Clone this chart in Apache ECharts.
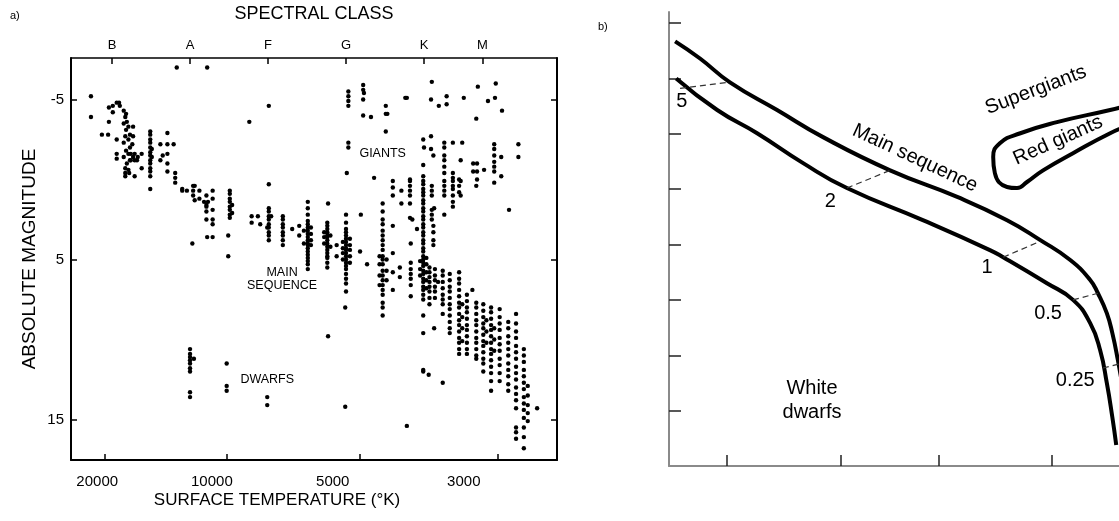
<!DOCTYPE html>
<html><head><meta charset="utf-8">
<script src="https://cdn.jsdelivr.net/npm/echarts@6/dist/echarts.min.js"></script>
<style>html,body{margin:0;padding:0;background:#fff}#c{width:1119px;height:521px}</style>
</head><body><div id="c"></div>
<script>
// ---------- Panel a: HR diagram data (x = spectral position, B0=10, A0=20 ... ; y = absolute magnitude) ----------
const spectralClasses = ['B','A','F','G','K','M'];
const spectralPos = [10, 20, 30, 40, 50, 57.5];
const temperatureLabels = ['20000','10000','5000','3000'];
const temperatureLabelPos = [8.1, 22.8, 38.3, 55.1];
const temperatureTickPos = [9.1, 24.7, 41.7, 59.5];
const magnitudeTicks = [-5, 5, 15];

// each row: spectral position, then magnitudes of stars in that column
const hotMainSeq = [
  [7.3,-5.2,-3.9],[8.7,-2.8],[9.5,-2.8],[9.6,-4.5,-3.6],[10.1,-4.6,-4.2],
  [10.6,-4.8,-2.5,-1.6,-1.3],[10.9,-4.8],[11.0,-4.6],[11.5,-4.3,-3.5,-2.3,-1.4],
  [11.7,-3.9,-2.7,-0.7,-0.2,-0.4],[11.8,-4.1,-3.1,-1.8],[11.9,-3.6,-1.0],
  [12.1,-3.3,-2.5,-1.6,-0.6],[12.2,-0.4],[12.3,-2.8,-2.0,-1.2],[12.4,-1.6,-1.2],
  [12.6,-2.2],[12.7,-3.3,-2.7,-1.4],[12.9,-1.6,-1.2,-0.2],[13.2,-1.2],[13.3,-1.4],
  [13.8,-1.6,-0.7],
  [14.9,-3.0,-2.8,-2.5,-2.3,-2.0,-1.7,-1.5,-1.2,-1.0,-0.7,-0.5,-0.2,0.6],
  [15.1,-1.9,-1.4],[16.2,-2.2,-1.2],[16.5,-1.5],[17.1,-2.9,-2.2,-1.6,-1.0,-0.5],
  [17.9,-2.2],[18.1,-0.4,-0.1,0.2]
];
const aStars = [
  [19.0,0.6,0.7],[19.6,0.7],[20.3,4.0],[20.4,0.4,0.7,1.0],[20.6,0.4,1.3],[21.2,0.7,1.2],
  [21.8,1.4],[22.1,1.0,1.6,1.7,2.0,2.5],[22.2,3.6],[22.3,1.4],[22.9,0.7,1.2,1.9,2.5,2.8,3.6],
  [24.9,3.5,4.8],[25.1,0.7,0.9,1.2,1.4,1.7,1.9,2.2,2.4],[25.4,1.6,2.1]
];
const fStars = [
  [27.9,2.3,2.7],[28.7,2.3],[29.0,2.8],[29.9,3.0],[30.1,1.8,2.0,2.3,2.5,2.8,3.0,3.3,3.5,3.8],
  [30.4,2.3],[31.9,2.3,2.5,2.8,3.0,3.3,3.5,3.8,4.1],[33.1,3.1],[34.0,2.9,3.5],[34.6,3.2,4.0],
  [35.1,1.4,1.8,2.2,2.6,2.8,3.0,3.2,3.4,3.6,3.8,4.0,4.1,4.3,4.5,4.7,4.9,5.1,5.3,5.6],
  [35.5,3.0,3.4,3.8,4.1],[37.2,3.3,3.6,4.0],
  [37.6,2.7,2.9,3.1,3.3,3.5,3.6,3.8,4.0,4.2,4.4,4.6,4.8,4.9,5.2,5.5],
  [37.7,1.5,9.8],[38.0,3.5,4.2],[38.8,4.1,4.8]
];
const gStars = [
  [39.6,3.9,4.3,4.6,5.0],[39.9,8.0,14.2],
  [40.0,2.2,2.7,3.1,3.3,3.5,3.7,3.9,4.1,4.3,4.4,4.6,4.8,5.0,5.2,5.4,5.6,5.9,6.2,6.5,7.0],
  [40.5,3.7,4.1,4.4,4.8,5.2],[41.8,4.5],[41.9,2.2],[42.7,5.3],[44.3,4.8,5.3,6.0,6.6],
  [44.7,1.5,2.0,2.5,2.8,3.2,3.5,3.8,4.1,4.4,4.8,5.0,5.3,5.7,6.0,6.3,6.6,6.9,7.2,7.7,8.0,8.5],
  [45.2,5.0,5.7,6.3],[46.0,2.9,4.6,5.8,6.9],[46.9,5.5,6.1],[47.8,15.4],[48.2,2.4],
  [48.3,4.0,5.2,5.6,5.9,6.2,6.6,7.3],[48.5,2.5],[49.1,3.1]
];
const kmStars = [
  [49.5,5.1,5.6,6.0],
  [49.9,-2.5,-0.9,-0.2,0.1,0.3,0.6,0.8,1.0,1.3,1.5,1.8,2.0,2.3,2.5,2.8,3.0,3.3,3.5,3.8,4.0,4.3,4.5,4.8,5.0,5.2,5.4,5.7,5.9,6.2,6.4,6.7,6.9,7.2,7.5,8.5,9.6,11.9,12.0],
  [50.0,-2.0],[50.3,4.9,5.3,5.8,6.3,6.8],[50.6,12.2],[50.7,5.5,5.8,6.1,6.4,6.7,7.0,7.4,7.8],
  [50.9,-2.7,-1.9],[51.0,0.4,0.7,1.0,1.9,2.2,2.5],[51.2,-1.5,2.9,3.3,3.8,4.1],[51.3,1.8,9.3],
  [51.4,5.6,6.0,6.3,6.7,7.0,7.4],[51.8,6.4],[52.4,5.7,6.0,6.4,6.8,7.2,7.5,7.8,8.4,12.7],
  [53.3,5.9,6.3,6.7,7.0,7.4,7.8,8.1,8.5,8.9,9.3,9.6],
  [54.5,5.8,6.2,6.5,6.9,7.3,7.7,8.0,8.4,8.8,9.1,9.5,9.9,10.2,10.6,10.9],
  [54.9,7.8,8.6,9.3,10.1],[55.5,7.2,7.6,8.0,8.3,8.7,9.1,9.4,9.8,10.2,10.6,10.9],[56.2,6.9],
  [56.7,7.7,8.0,8.4,8.8,9.1,9.5,9.9,10.2,10.6,11.0,11.2],
  [57.6,7.8,8.2,8.6,9.0,9.3,9.7,10.1,10.4,10.8,11.2,11.5,12.0],[58.0,8.8,9.5,10.2],
  [58.6,8.0,8.3,8.7,9.1,9.4,9.8,10.2,10.6,10.9,11.3,11.7,12.1,12.6,13.2],[59.0,9.3,10.0,10.7],
  [59.7,8.1,8.6,9.0,9.4,9.9,10.3,10.7,11.2,11.6,12.1,12.6],
  [60.8,8.9,9.3,9.8,10.2,10.6,11.0,11.5,11.9,12.3,12.8,13.2],
  [61.8,8.4,9.0,9.5,9.9,10.4,10.8,11.2,11.7,12.1,12.5,13.0,13.4,13.8,14.3,15.5,15.8,16.2],
  [62.8,10.6,11.0,11.4,11.9,12.3,12.7,13.1,13.6,14.0,14.4,14.9,15.5,16.1,16.8],
  [63.3,12.9,13.5,14.1,14.6,15.1],[64.5,14.3]
];
const giantStars = [
  [18.3,-7.0],[22.2,-7.0],[27.6,-3.6],[30.1,-4.6,0.3],[40.1,-0.4],[40.3,-5.5,-5.2,-4.9,-4.6,-2.3,-2.0],
  [42.2,-5.9,-5.6,-5.0,-4.0],[42.3,-5.4],[43.2,-3.9],[43.6,-0.1],[45.1,-4.6,-4.1,-3.0],[45.3,-4.1],
  [46.0,0.1,0.5,1.0],[47.1,0.7,1.5],[47.6,-5.1],[47.8,-5.1],[48.2,0.0,0.1,0.4,0.7,1.0,1.5],
  [50.9,-5.0],[51.0,-6.1],[51.9,-4.6],[52.6,-2.3,-2.0,-1.5,-1.2,-0.8,-0.4,0.1,0.4,0.7,1.0,2.2],
  [52.9,-5.2,-4.7],[53.7,-2.3,-0.4,-0.1,0.1,0.4,0.6,1.0,1.4,1.7],[54.5,0.0,0.4,0.8],
  [54.7,-1.2,0.1,1.0],[54.9,-2.3],[55.1,-5.1],[56.3,-1.0,-0.5],[56.7,-3.8,0.4],[56.8,-1.0,-0.5,0.0],
  [56.9,-5.8],[57.7,-0.6],[58.2,-4.9],[59.0,-2.2,-1.9,-1.5,-1.1,-0.8,-0.5,0.2],[59.1,-5.1],
  [59.2,-6.0],[59.9,-1.4,-0.2],[60.0,-4.3],[60.9,1.9],[62.1,-2.2,-1.4]
];
const dwarfStars = [
  [20.0,10.6,10.9,11.1,11.3,11.5,11.8,12.0,13.3,13.6],[20.5,11.2],[24.7,11.5,12.9,13.2],[29.9,13.6,14.1]
];
const regionLabelsA = [
  {name:'GIANTS', value:[44.7,-1.6]},
  {name:'MAIN\nSEQUENCE', value:[31.8,6.2]},
  {name:'DWARFS', value:[29.9,12.5]}
];

// ---------- Panel b: schematic (abstract units) ----------
const upperBand = [[0.11,7.67],[0.56,7.36],[1.10,6.93],[1.95,6.43],[2.78,5.94],[3.99,5.34],[5.20,4.86],[6.10,4.44],[6.70,4.08],[7.24,3.72],[7.60,3.36],[7.74,3.12],[7.90,2.76],[8.00,2.40],[8.10,1.91],[8.21,1.28]];
const lowerBand = [[0.13,7.00],[0.87,6.43],[1.59,6.01],[2.42,5.47],[3.21,5.02],[4.58,4.44],[5.79,3.90],[6.03,3.77],[6.82,3.30],[7.29,3.00],[7.60,2.58],[7.78,2.09],[7.90,1.50],[8.00,0.88],[8.07,0.38]];
const redGiantLoop = [[8.32,6.52],[7.96,6.43],[7.00,6.21],[6.34,6.01],[5.97,5.83],[5.85,5.58],[5.88,5.29],[6.10,5.04],[6.28,5.02],[6.46,5.13],[6.75,5.34],[7.29,5.65],[7.96,6.01],[8.32,6.16]];
const massLines = [
  [[0.20,6.82],[1.06,6.93]],
  [[3.21,5.02],[3.99,5.34]],
  [[6.03,3.77],[6.70,4.06]],
  [[7.29,3.00],[7.74,3.12]],
  [[7.83,1.77],[8.15,1.85]]
];
const massLabels = [
  {name:'5', value:[0.23,6.58]},
  {name:'2', value:[2.91,4.77]},
  {name:'1', value:[5.74,3.59]},
  {name:'0.5', value:[6.84,2.76]},
  {name:'0.25', value:[7.33,1.55]}
];
const regionLabelsB = [
  {name:'Main sequence', value:[4.44,5.56], rot:-25},
  {name:'Supergiants', value:[6.62,6.79], rot:21},
  {name:'Red giants', value:[7.02,5.88], rot:24},
  {name:'White\ndwarfs', value:[2.58,1.19], rot:0}
];
const bXTicks = [1.05, 3.1, 4.86, 6.9];
const bYTicks = [1,2,3,4,5,6,7,8];

function expand(rows){ const out=[]; rows.forEach(r=>{ for(let i=1;i<r.length;i++) out.push([r[0], r[i]]); }); return out; }
function nearestLabel(v, pos, labels){ let bi=0,bd=1e9; pos.forEach((p,i)=>{ const d=Math.abs(p-v); if(d<bd){bd=d;bi=i;} }); return labels[bi]; }

const FONT = 'Liberation Sans';
const INK = '#000';
const starGroups = [hotMainSeq, aStars, fStars, gStars, kmStars, giantStars, dwarfStars];

const chart = echarts.init(document.getElementById('c'), null, {renderer:'canvas'});
const series = [];
starGroups.forEach(g => series.push({
  type:'scatter', xAxisIndex:0, yAxisIndex:0, data: expand(g), symbolSize:4.4,
  itemStyle:{color:INK, opacity:1}, silent:true, animation:false
}));
const txtLabel = (size, lh) => ({show:true, position:'inside', formatter:'{b}', fontFamily:FONT, fontSize:size, color:INK, lineHeight:lh, textBorderWidth:0, opacity:1});
series.push({
  type:'scatter', xAxisIndex:0, yAxisIndex:0, data: regionLabelsA, symbolSize:1,
  itemStyle:{color:'rgba(0,0,0,0)', opacity:1}, label:txtLabel(12.5, 13)
});
series.push({type:'line', xAxisIndex:2, yAxisIndex:2, data:upperBand, smooth:true, symbol:'none', lineStyle:{color:INK, width:4}, animation:false});
series.push({type:'line', xAxisIndex:2, yAxisIndex:2, data:lowerBand, smooth:true, symbol:'none', lineStyle:{color:INK, width:4}, animation:false});
series.push({type:'line', xAxisIndex:2, yAxisIndex:2, data:redGiantLoop, smooth:true, symbol:'none', lineStyle:{color:INK, width:4}, animation:false});
massLines.forEach(seg => series.push({type:'line', xAxisIndex:2, yAxisIndex:2, data:seg, symbol:'none', lineStyle:{color:'#333', width:1.2, type:[6,4]}, animation:false}));
series.push({
  type:'scatter', xAxisIndex:2, yAxisIndex:2, data: massLabels, symbolSize:1,
  itemStyle:{color:'rgba(0,0,0,0)', opacity:1}, label:txtLabel(20, 24)
});
series.push({
  type:'scatter', xAxisIndex:2, yAxisIndex:2, symbolSize:1, itemStyle:{color:'rgba(0,0,0,0)', opacity:1},
  data: regionLabelsB.map(d => ({name:d.name, value:d.value, label:{rotate:d.rot}})),
  label:txtLabel(20, 24)
});

const option = {
  backgroundColor:'#fff',
  animation:false,
  textStyle:{fontFamily:FONT},
  grid:[
    {left:71, top:53, width:486, height:407},
    {left:669, top:12, width:450, height:454}
  ],
  xAxis:[
    {gridIndex:0, type:'value', min:4.74, max:67.05, position:'bottom',
     axisLine:{onZero:false, lineStyle:{color:INK, width:2}},
     axisTick:{inside:true, length:6, customValues:temperatureTickPos, lineStyle:{color:INK, width:1.5}},
     axisLabel:{customValues:temperatureLabelPos, formatter:v=>nearestLabel(v, temperatureLabelPos, temperatureLabels), fontSize:15, color:INK, margin:14},
     splitLine:{show:false}},
    {gridIndex:0, type:'value', min:4.74, max:67.05, position:'top',
     name:'SPECTRAL CLASS', nameLocation:'middle', nameGap:35, nameTextStyle:{fontSize:18, color:INK},
     axisLine:{onZero:false, lineStyle:{color:INK, width:1.5}},
     axisTick:{inside:true, length:6, customValues:spectralPos, lineStyle:{color:INK, width:1.5}},
     axisLabel:{customValues:spectralPos, formatter:v=>nearestLabel(v, spectralPos, spectralClasses), fontSize:13, color:INK, margin:6},
     splitLine:{show:false}},
    {gridIndex:1, type:'value', min:0, max:8.12,
     axisLine:{onZero:false, lineStyle:{color:'#8a8a8a', width:2}},
     axisTick:{inside:true, length:11, customValues:bXTicks, lineStyle:{color:'#222', width:1.5}},
     axisLabel:{show:false}, splitLine:{show:false}}
  ],
  yAxis:[
    {gridIndex:0, type:'value', inverse:true, min:-7.59, max:17.53,
     name:'ABSOLUTE MAGNITUDE', nameLocation:'middle', nameGap:32, nameRotate:90, nameTextStyle:{fontSize:19, color:INK},
     axisLine:{show:true, onZero:false, lineStyle:{color:INK, width:2}},
     axisTick:{show:true, inside:true, length:6, customValues:magnitudeTicks, lineStyle:{color:INK, width:1.5}},
     axisLabel:{customValues:magnitudeTicks, fontSize:15, color:INK, margin:7},
     splitLine:{show:false}},
    {gridIndex:0, type:'value', inverse:true, min:-7.59, max:17.53, position:'right',
     axisLine:{show:true, onZero:false, lineStyle:{color:INK, width:2}},
     axisTick:{show:true, inside:true, length:6, customValues:magnitudeTicks, lineStyle:{color:INK, width:1.5}},
     axisLabel:{show:false}, splitLine:{show:false}},
    {gridIndex:1, type:'value', min:0, max:8.2,
     axisLine:{show:true, onZero:false, lineStyle:{color:'#8a8a8a', width:2}},
     axisTick:{show:true, inside:true, length:12, customValues:bYTicks, lineStyle:{color:'#222', width:1.5}},
     axisLabel:{show:false}, splitLine:{show:false}}
  ],
  graphic:[
    {type:'text', left:10, top:10, style:{text:'a)', fontSize:11, fill:INK, fontFamily:FONT}},
    {type:'text', left:598, top:21, style:{text:'b)', fontSize:11, fill:INK, fontFamily:FONT}},
    {type:'text', x:277, y:500, style:{text:'SURFACE TEMPERATURE (°K)', fontSize:17, fill:INK, fontFamily:FONT, align:'center', verticalAlign:'middle'}}
  ],
  series: series
};
chart.setOption(option);
</script></body></html>
